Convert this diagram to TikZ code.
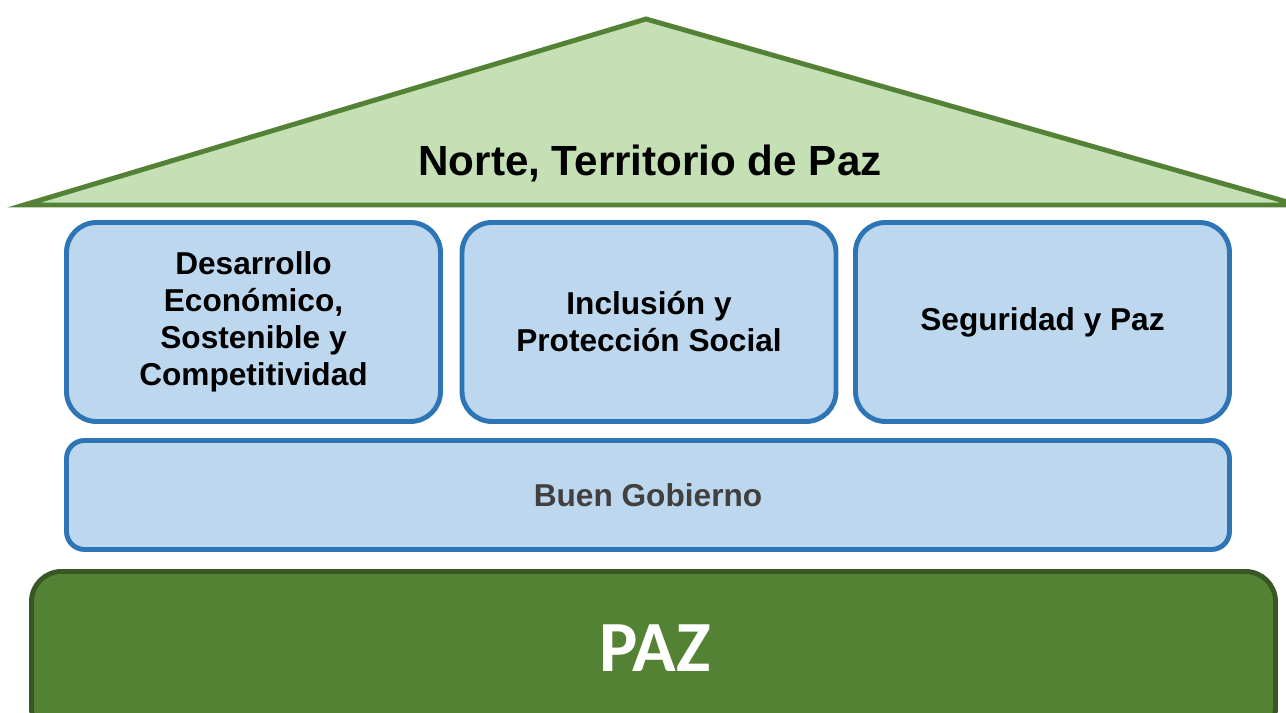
\documentclass[tikz,border=0pt]{standalone}
\usepackage{fontspec}
\setmainfont{Liberation Sans}
\newfontfamily\pazfont{Carlito}
\usetikzlibrary{positioning}

\definecolor{roofgreen}{HTML}{C5E0B4}
\definecolor{roofline}{HTML}{538135}
\definecolor{pillarblue}{HTML}{BDD7EE}
\definecolor{pillarline}{HTML}{2E75B6}
\definecolor{groundgreen}{HTML}{548235}
\definecolor{groundline}{HTML}{385723}
\definecolor{govgray}{HTML}{404040}

\tikzset{
    pillar/.style={draw=pillarline, fill=pillarblue, line width=1.4pt, rounded corners=0.3cm,
        minimum width=3.74cm, minimum height=1.99cm, align=center,
        font=\fontsize{9}{10.5}\selectfont\bfseries},
    govbox/.style={draw=pillarline, fill=pillarblue, line width=1.4pt, rounded corners=0.18cm,
        minimum width=11.63cm, minimum height=1.09cm, text=govgray,
        font=\fontsize{9}{10.5}\selectfont\bfseries}
}

\begin{document}
\begin{tikzpicture}
        \useasboundingbox (0,0) rectangle (12.86,7.13);

        % Roof
        \draw[roofline, fill=roofgreen, line width=1.4pt, line join=miter]
            (0.24,5.08) -- (6.46,6.94) -- (12.98,5.08) -- cycle;
        \node[font=\fontsize{12}{14}\selectfont\bfseries] (roof) at (6.50,5.50) {Norte, Territorio de Paz};

        % Pillars
        \node[pillar] (desarrollo) at (2.535,3.91) {Desarrollo\\Económico,\\Sostenible y\\Competitividad};
        \node[pillar] (inclusion) at (6.49,3.91) {Inclusión y\\Protección Social};
        \node[pillar] (seguridad) at (10.425,3.91) {Seguridad y Paz};

        % Buen Gobierno
        \node[govbox] (gobierno) at (6.48,2.18) {Buen Gobierno};

        % Ground
        \draw[groundline, fill=groundgreen, line width=1.4pt, rounded corners=0.3cm]
            (0.315,-0.25) rectangle (12.755,1.415);
        \node[text=white, font=\pazfont\fontsize{20.5}{24}\selectfont\bfseries] (paz) at (6.55,0.65) {PAZ};

\end{tikzpicture}
\end{document}
